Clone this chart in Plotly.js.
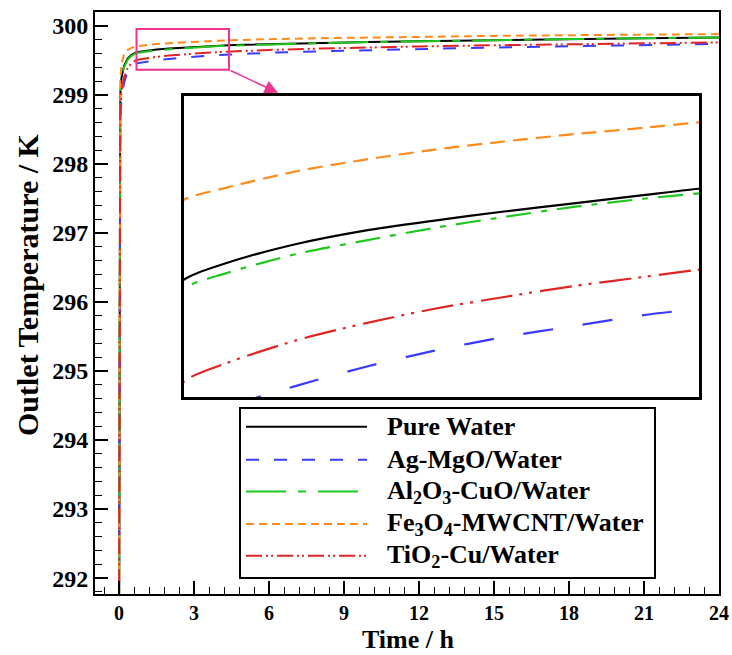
<!DOCTYPE html>
<html>
<head>
<meta charset="utf-8">
<script src="https://cdn.plot.ly/plotly-3.0.1.min.js"></script>
<style>html,body{margin:0;padding:0;background:#fff;}#chart{width:732px;height:655px;}</style>
</head>
<body>
<div id="chart"></div>
<script>
// ---- data ----
const time = [0, 0.02, 0.05, 0.1, 0.2, 0.35, 0.5, 0.7, 1.0, 1.5, 2.0, 2.5, 3.0, 3.5, 4.0, 4.4, 5, 6, 8, 10, 12, 15, 18, 21, 24];
const pureWater = [291.0, 297.2, 299.0, 299.25, 299.42, 299.53, 299.58, 299.617, 299.635, 299.656, 299.671, 299.682, 299.692, 299.701, 299.710, 299.717, 299.725, 299.735, 299.752, 299.766, 299.778, 299.794, 299.808, 299.820, 299.830];
const agMgO = [291.0, 296.0, 298.6, 298.95, 299.17, 299.35, 299.415, 299.456, 299.476, 299.500, 299.521, 299.539, 299.554, 299.566, 299.578, 299.585, 299.595, 299.609, 299.630, 299.649, 299.665, 299.686, 299.704, 299.721, 299.738];
const al2o3CuO = [291.0, 297.0, 298.95, 299.22, 299.40, 299.51, 299.565, 299.607, 299.624, 299.645, 299.660, 299.674, 299.686, 299.697, 299.706, 299.712, 299.720, 299.731, 299.749, 299.764, 299.777, 299.794, 299.808, 299.821, 299.832];
const fe3o4MWCNT = [291.0, 297.8, 299.2, 299.45, 299.58, 299.65, 299.68, 299.705, 299.718, 299.736, 299.749, 299.760, 299.769, 299.777, 299.784, 299.790, 299.797, 299.806, 299.820, 299.832, 299.842, 299.854, 299.864, 299.873, 299.880];
const tio2Cu = [291.0, 296.5, 298.8, 299.05, 299.25, 299.39, 299.46, 299.505, 299.525, 299.550, 299.569, 299.585, 299.598, 299.610, 299.620, 299.628, 299.637, 299.650, 299.670, 299.687, 299.701, 299.718, 299.733, 299.747, 299.760];

const seriesNames = ['Pure Water', 'Ag-MgO/Water', 'Al<sub>2</sub>O<sub>3</sub>-CuO/Water', 'Fe<sub>3</sub>O<sub>4</sub>-MWCNT/Water', 'TiO<sub>2</sub>-Cu/Water'];
const seriesValues = [pureWater, agMgO, al2o3CuO, fe3o4MWCNT, tio2Cu];
const xTickVals = [0, 3, 6, 9, 12, 15, 18, 21, 24];
const yTickVals = [292, 293, 294, 295, 296, 297, 298, 299, 300];
const xTitle = 'Time / h';
const yTitle = 'Outlet Temperature / K';

// ---- styles ----
const colors = ['#000000', '#3a3aff', '#1ec81e', '#ff8a1c', '#e02424'];
const dashMain = ['solid', '13px,15px', '40px,12px,8px,12px', '8px,5px', '16px,4px,2px,3px,2px,4px'];
const dashInset = ['solid', '30px,30px', '25px,10px,6px,10px', '15px,8px', '32px,7px,3px,7px,3px,8px'];
const serif = '"Liberation Serif", "Times New Roman", Times, serif';

const traces = [];
seriesValues.forEach((vals, i) => {
  traces.push({x: time, y: vals, type: 'scatter', mode: 'lines', name: seriesNames[i],
    line: {color: colors[i], width: 2, dash: dashMain[i]}, showlegend: false,
    xaxis: 'x', yaxis: 'y'});
});
seriesValues.forEach((vals, i) => {
  traces.push({x: time, y: vals, type: 'scatter', mode: 'lines', name: seriesNames[i],
    line: {color: colors[i], width: 2.2, dash: dashInset[i], shape: 'spline', smoothing: 0.8}, showlegend: false,
    xaxis: 'x2', yaxis: 'y2'});
});

// ---- hand-drawn legend (long line samples like the original) ----
const pl = 95, pr = 719, pt = 12, pb = 594;
const px = v => (v - pl) / (pr - pl);
const py = v => (pb - v) / (pb - pt);
const legendRows = [426.7, 459.7, 491.5, 524, 555.7];

const shapes = [
  {type: 'rect', xref: 'paper', yref: 'paper', x0: px(240), x1: px(655), y0: py(578), y1: py(408),
   line: {color: '#000', width: 2}, fillcolor: '#fff', layer: 'above'},
  {type: 'rect', xref: 'x', yref: 'y', x0: 0.7, x1: 4.4, y0: 299.362, y1: 299.952,
   line: {color: '#f0338f', width: 2}}
];
const annotations = [];
seriesNames.forEach((n, i) => {
  shapes.push({type: 'line', xref: 'paper', yref: 'paper', x0: px(246), x1: px(367),
    y0: py(legendRows[i]), y1: py(legendRows[i]), line: {color: colors[i], width: 2, dash: dashMain[i]}, layer: 'above'});
  annotations.push({xref: 'paper', yref: 'paper', x: px(385), y: py(legendRows[i]), xanchor: 'left', yanchor: 'middle',
    text: n, showarrow: false, font: {family: serif, size: 26, color: '#000', weight: 'bold'}});
});
annotations.push({xref: 'x', yref: 'y', x: 6.36, y: 299.03, axref: 'x', ayref: 'y', ax: 4.4, ay: 299.362,
  text: '', showarrow: true, arrowhead: 2, arrowsize: 1.8, arrowwidth: 1.5, arrowcolor: '#f0338f', standoff: 0});
// axis titles placed as in the original
annotations.push({xref: 'paper', yref: 'paper', x: px(27), y: py(285), xanchor: 'center', yanchor: 'middle',
  textangle: -90, text: yTitle, showarrow: false, font: {family: serif, size: 30, color: '#000', weight: 'bold'}});
annotations.push({xref: 'paper', yref: 'paper', x: px(408), y: py(654.5), xanchor: 'center', yanchor: 'bottom',
  text: xTitle, showarrow: false, borderpad: 0, font: {family: serif, size: 26, color: '#000', weight: 'bold'}});

const layout = {
  width: 732, height: 655,
  margin: {l: pl, r: 732 - pr, t: pt, b: 655 - pb},
  paper_bgcolor: '#fff', plot_bgcolor: '#fff',
  showlegend: false,
  font: {family: serif},
  xaxis: {range: [-0.96, 24], tickvals: xTickVals, ticks: 'inside', ticklen: 13, tickwidth: 1.5, tickcolor: '#000',
    minor: {dtick: 0.6, tick0: 0, ticks: 'inside', ticklen: 7, tickwidth: 1, tickcolor: '#000'},
    showline: true, linecolor: '#000', linewidth: 2, mirror: true, showgrid: false, zeroline: false,
    tickfont: {family: serif, size: 20, color: '#000', weight: 'bold'}},
  yaxis: {range: [291.77, 300.2], tickvals: yTickVals, ticks: 'inside', ticklen: 13, tickwidth: 1.5, tickcolor: '#000',
    minor: {dtick: 0.2, tick0: 292, ticks: 'inside', ticklen: 7, tickwidth: 1, tickcolor: '#000'},
    showline: true, linecolor: '#000', linewidth: 2, mirror: true, showgrid: false, zeroline: false,
    tickfont: {family: serif, size: 24, color: '#000', weight: 'bold'}},
  xaxis2: {domain: [px(184), px(699)], range: [0.7, 4.4], anchor: 'y2', showticklabels: false, ticks: '',
    showline: true, mirror: true, linecolor: '#000', linewidth: 3, showgrid: false, zeroline: false},
  yaxis2: {domain: [py(397), py(96)], range: [299.488, 299.819], anchor: 'x2', showticklabels: false, ticks: '',
    showline: true, mirror: true, linecolor: '#000', linewidth: 3, showgrid: false, zeroline: false},
  shapes: shapes,
  annotations: annotations
};

Plotly.newPlot('chart', traces, layout, {displayModeBar: false, staticPlot: true});
</script>
</body>
</html>
